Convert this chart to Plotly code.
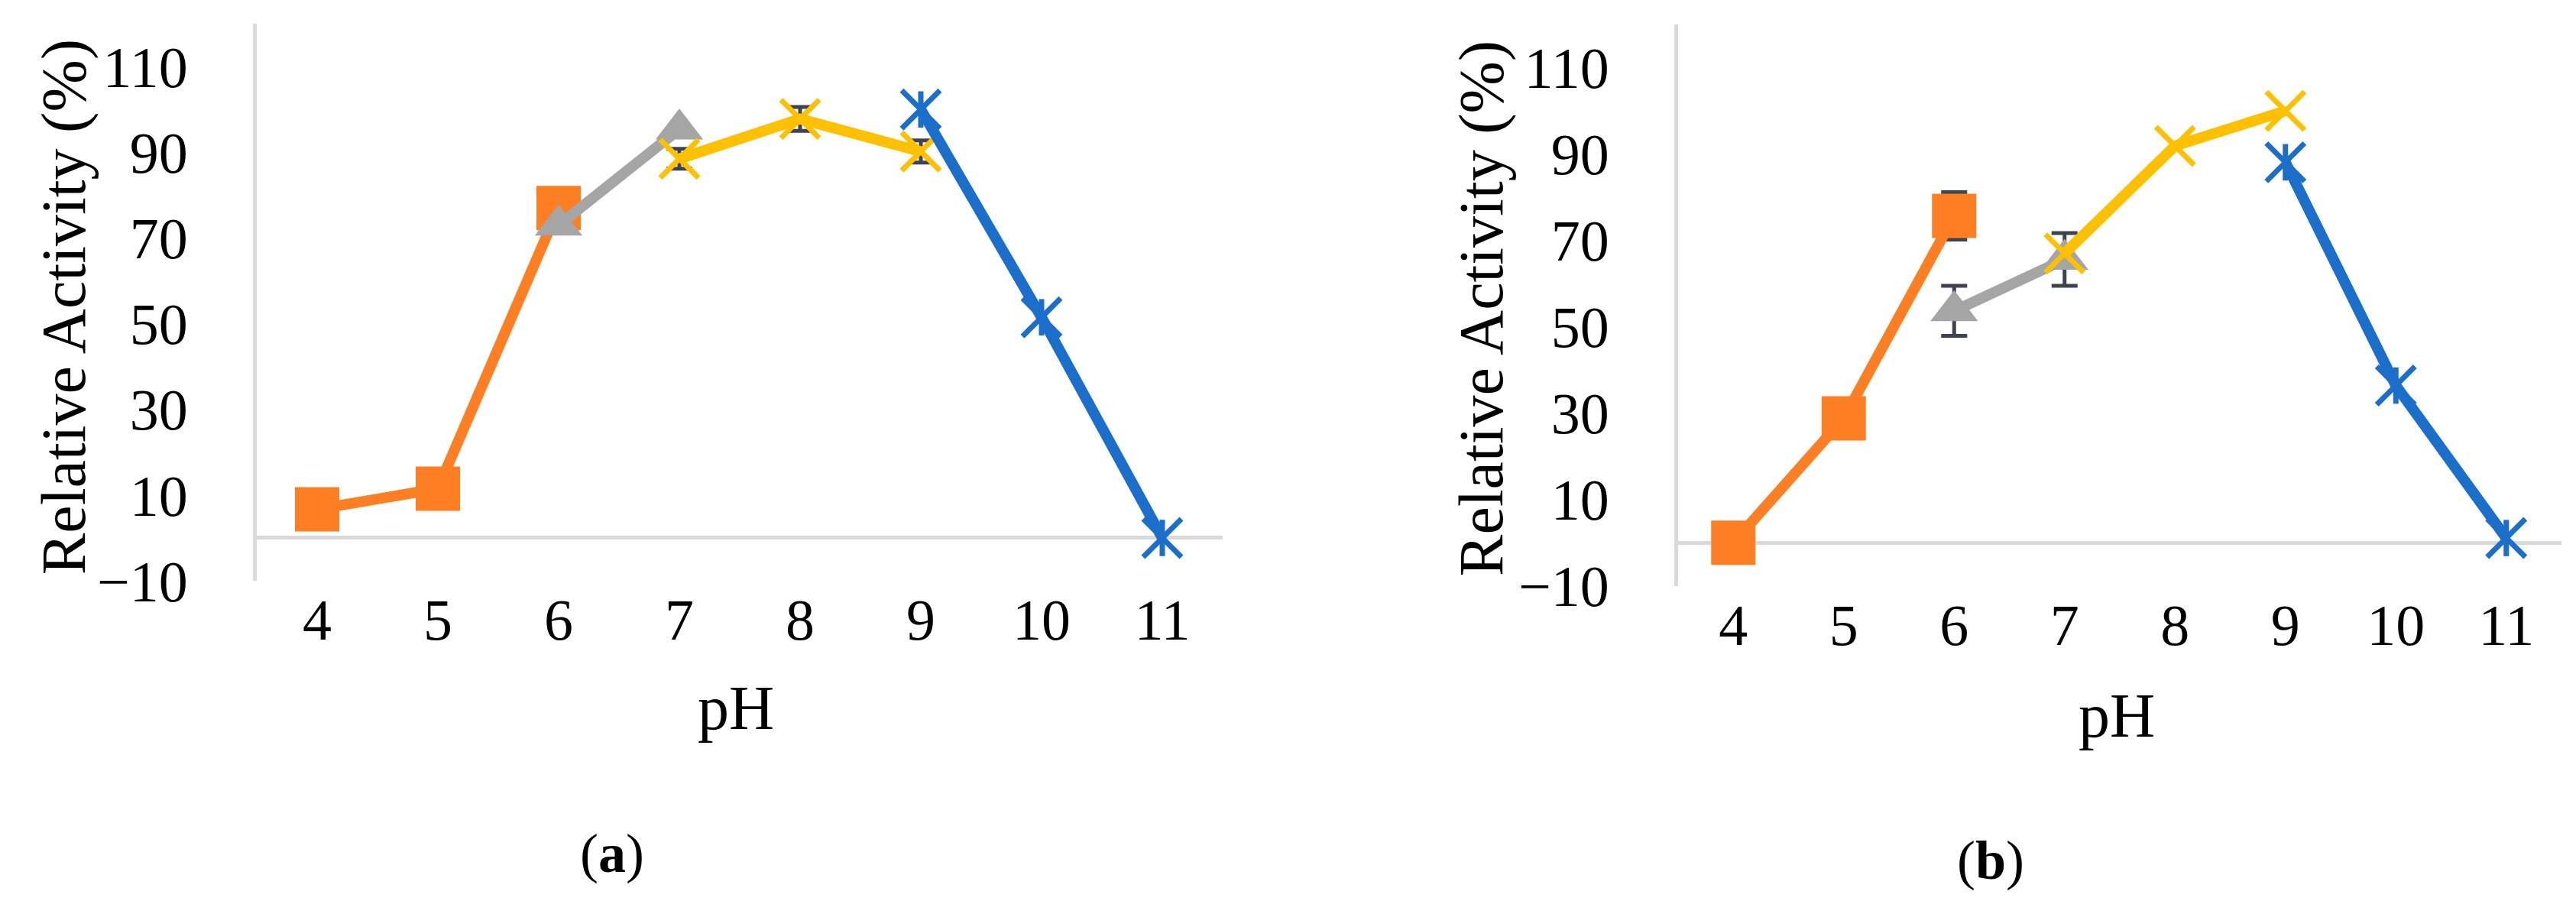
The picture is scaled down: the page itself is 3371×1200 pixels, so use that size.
"""
pH 活性曲线 (a)(b) 两幅子图
"""

import plotly.graph_objects as go

# ---- 数据 ----
ph_ticks = [4, 5, 6, 7, 8, 9, 10, 11]
y_ticks = [-10, 10, 30, 50, 70, 90, 110]

# (a)
ph_orange_a = [4, 5, 6]
act_orange_a = [6.7, 11.5, 77]
ph_gray_a = [6, 7]
act_gray_a = [73, 95.4]
ph_yellow_a = [7, 8, 9]
act_yellow_a = [88.5, 97.8, 90.2]
err_yellow_a = [2.3, 2.8, 2.6]
ph_blue_a = [9, 10, 11]
act_blue_a = [100, 51.5, 0]

# (b)
ph_orange_b = [4, 5, 6]
act_orange_b = [0, 28.8, 75.7]
err_orange_b = [1, 4, 5.5]
ph_gray_b = [6, 7]
act_gray_b = [53.7, 65.6]
err_gray_b = [5.8, 6.1]
ph_yellow_b = [7, 8, 9]
act_yellow_b = [67, 91.9, 100]
ph_blue_b = [9, 10, 11]
act_blue_b = [88.1, 36.4, 1.1]

ORANGE = "#FD7E23"
GRAY = "#A5A5A5"
YELLOW = "#FFC000"
BLUE = "#1B6FCB"
ERR = "#3D4450"
AXIS = "#D9D9D9"
FONT = "Liberation Serif"

W, H = 3371, 1200


def err_bar(vals):
    if vals is None:
        return None
    return dict(type="data", array=vals, color=ERR, thickness=5, width=17)


def add_series(fig, xs, ys, color, symbol, size, xa, ya, err=None, open_marker=False):
    marker = dict(symbol=symbol, size=size, color=color)
    if open_marker:
        marker["line"] = dict(color=color, width=7)
    else:
        marker["line"] = dict(width=0)
    fig.add_trace(
        go.Scatter(
            x=xs, y=ys, mode="lines+markers",
            line=dict(color=color, width=14),
            marker=marker,
            error_y=err_bar(err),
            xaxis=xa, yaxis=ya, showlegend=False,
        )
    )


def add_panel(fig, xa, ya, orange, gray, yellow, blue):
    add_series(fig, orange[0], orange[1], ORANGE, "square", 58, xa, ya, orange[2])
    add_series(fig, gray[0], gray[1], GRAY, "triangle-up", 54, xa, ya, gray[2])
    add_series(fig, yellow[0], yellow[1], YELLOW, "x-thin", 50, xa, ya, yellow[2], True)
    add_series(fig, blue[0], blue[1], BLUE, "x-thin", 50, xa, ya, None, True)
    # 星形标记的竖线
    fig.add_trace(
        go.Scatter(
            x=blue[0], y=blue[1], mode="markers",
            marker=dict(symbol="line-ns", size=34, color=BLUE,
                        line=dict(color=BLUE, width=7)),
            xaxis=xa, yaxis=ya, showlegend=False,
        )
    )


fig = go.Figure()
add_panel(
    fig, "x", "y",
    (ph_orange_a, act_orange_a, None),
    (ph_gray_a, act_gray_a, None),
    (ph_yellow_a, act_yellow_a, err_yellow_a),
    (ph_blue_a, act_blue_a),
)
add_panel(
    fig, "x2", "y2",
    (ph_orange_b, act_orange_b, err_orange_b),
    (ph_gray_b, act_gray_b, err_gray_b),
    (ph_yellow_b, act_yellow_b, None),
    (ph_blue_b, act_blue_b),
)

tick_font = dict(family=FONT, size=76, color="black")
xaxis_style = dict(
    range=[3.5, 11.5], tickvals=ph_ticks, showgrid=False, zeroline=False,
    showline=False, ticks="", tickfont=tick_font,
)
yaxis_style = dict(
    range=[-10, 120], tickvals=y_ticks, showgrid=False,
    zeroline=True, zerolinecolor=AXIS, zerolinewidth=5,
    showline=True, linecolor=AXIS, linewidth=5, ticks="",
    tickfont=tick_font, ticklabelstandoff=70,
)

fig.update_layout(
    width=W, height=H,
    margin=dict(l=0, r=0, t=0, b=0),
    paper_bgcolor="white", plot_bgcolor="white",
    xaxis=dict(domain=[328 / W, 1592 / W], anchor="y", **xaxis_style),
    yaxis=dict(domain=[1 - 780 / H, 1 - 24 / H], anchor="x", **yaxis_style),
    xaxis2=dict(domain=[2188 / W, 3344 / W], anchor="y2", **xaxis_style),
    yaxis2=dict(domain=[1 - 787 / H, 1 - 25 / H], anchor="x2", **yaxis_style),
    showlegend=False,
)

# 轴标题与子图标签
label_font = dict(family=FONT, size=82, color="black")
tag_font = dict(family=FONT, size=72, color="black")
notes = [
    ("Relative Activity (%)", 75, 409, -90, label_font),
    ("Relative Activity (%)", 1930, 411, -90, label_font),
    ("pH", 955, 953, 0, label_font),
    ("pH", 2762, 963, 0, label_font),
    ("(<b>a</b>)", 793, 1150, 0, tag_font),
    ("(<b>b</b>)", 2597, 1160, 0, tag_font),
]
for text, px, py, ang, font in notes:
    fig.add_annotation(
        text=text, x=px / W, y=1 - py / H, xref="paper", yref="paper",
        xanchor="center", yanchor="middle", textangle=ang,
        showarrow=False, font=font,
    )

fig.write_html("out.html")
